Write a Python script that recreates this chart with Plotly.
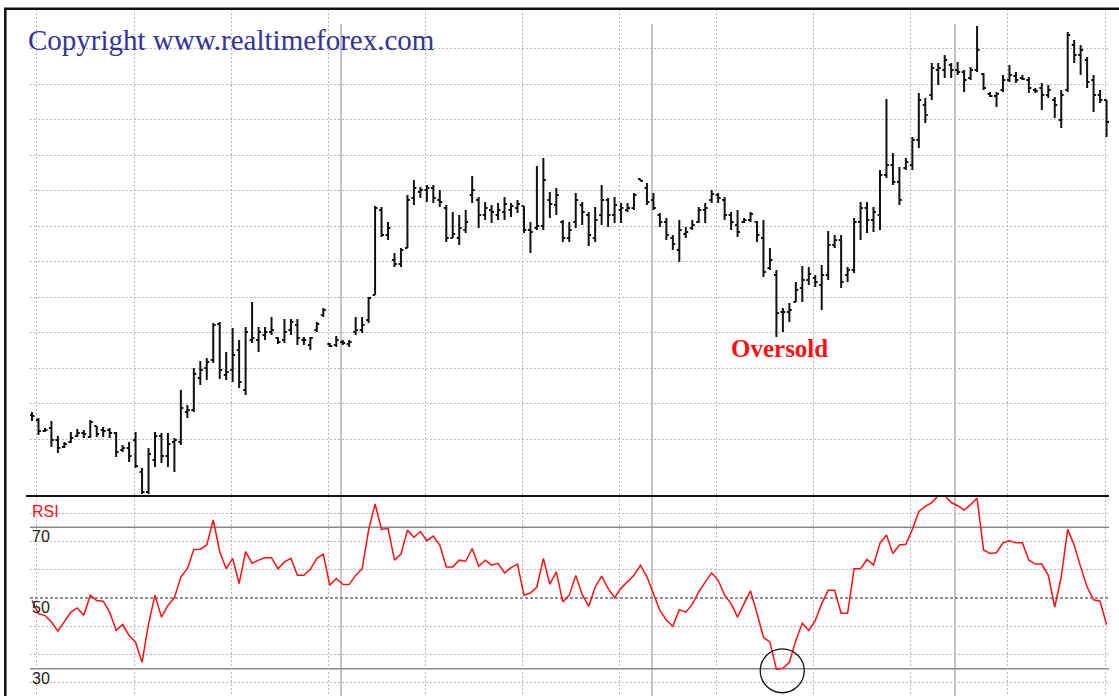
import plotly.graph_objects as go

W, H = 1119, 696

# ---------------- data (price in chart units, bar index on x) ----------------
bar_index = list(range(167))

high = [88, 82, 72, 79, 64, 58, 68, 71, 70, 80, 74, 73, 72, 68, 55, 58, 68, 32, 52, 68,
        67, 67, 62, 110, 95, 132, 139, 142, 177, 178, 148, 172, 160, 173, 198, 173, 173, 183, 163, 181,
        181, 181, 163, 163, 178, 192, 157, 164, 160, 160, 183, 183, 203, 294, 293, 278, 247, 252, 305, 320,
        313, 315, 315, 310, 295, 288, 285, 290, 324, 303, 298, 295, 297, 303, 297, 300, 294, 278, 334, 342,
        308, 312, 280, 278, 307, 298, 288, 293, 315, 302, 303, 297, 297, 307, 321, 317, 307, 287, 282, 265,
        280, 273, 280, 293, 297, 310, 307, 303, 288, 290, 282, 288, 279, 280, 252, 230, 192, 197, 218, 234,
        233, 225, 235, 269, 265, 265, 233, 282, 298, 298, 293, 330, 401, 347, 333, 342, 363, 407, 402, 437,
        437, 445, 437, 438, 430, 433, 474, 427, 408, 408, 425, 435, 428, 425, 423, 412, 417, 415, 403, 410,
        468, 460, 455, 443, 425, 410, 400]
low = [79, 65, 68, 53, 47, 52, 57, 63, 62, 62, 63, 63, 62, 43, 48, 38, 32, 6, 6, 33,
       37, 33, 28, 55, 82, 88, 115, 120, 137, 121, 120, 118, 112, 105, 157, 148, 160, 165, 156, 157,
       165, 155, 155, 150, 168, 183, 153, 153, 155, 153, 165, 167, 177, 205, 263, 260, 233, 233, 252, 295,
       302, 298, 297, 293, 258, 262, 255, 267, 297, 272, 280, 277, 280, 280, 283, 287, 267, 247, 270, 270,
       282, 285, 258, 258, 272, 275, 254, 258, 275, 273, 277, 277, 288, 290, 319, 295, 290, 273, 260, 250,
       238, 262, 270, 277, 277, 297, 297, 280, 270, 263, 277, 278, 258, 223, 230, 163, 168, 178, 198, 198,
       215, 213, 190, 220, 252, 212, 218, 227, 260, 267, 268, 270, 322, 315, 295, 330, 330, 352, 377, 400,
       415, 422, 422, 425, 408, 420, 428, 410, 403, 393, 408, 418, 417, 420, 407, 407, 390, 402, 382, 372,
       408, 437, 425, 412, 388, 397, 363]
open_ = [85, 80, 69, 72, 60, 53, 58, 64, 67, 63, 74, 70, 70, 67, 50, 52, 60, 28, 8, 40,
         64, 44, 58, 58, 88, 90, 122, 132, 140, 176, 125, 130, 150, 110, 160, 160, 165, 168, 162, 160,
         170, 175, 160, 155, 170, 185, 156, 155, 158, 156, 168, 170, 180, 205, 290, 265, 240, 236, 252, 302,
         308, 310, 312, 300, 292, 262, 262, 270, 305, 300, 285, 290, 285, 288, 290, 292, 294, 270, 272, 274,
         300, 295, 278, 262, 278, 295, 285, 262, 285, 300, 285, 290, 290, 292, 321, 312, 300, 285, 278, 262,
         250, 266, 272, 278, 290, 300, 305, 300, 285, 275, 278, 280, 278, 262, 232, 225, 188, 188, 198, 212,
         220, 222, 215, 225, 255, 260, 225, 230, 278, 292, 280, 285, 325, 335, 318, 332, 335, 360, 395, 405,
         430, 430, 435, 430, 428, 422, 430, 426, 406, 404, 410, 420, 424, 422, 420, 410, 412, 405, 400, 380,
         410, 455, 445, 440, 420, 405, 400]
close = [84, 69, 70, 60, 52, 56, 62, 67, 66, 78, 66, 69, 67, 48, 52, 44, 34, 8, 46, 64,
         44, 56, 60, 92, 90, 126, 130, 138, 175, 130, 128, 145, 118, 168, 162, 168, 168, 170, 158, 168,
         178, 162, 160, 162, 176, 190, 154, 160, 157, 158, 170, 175, 202, 292, 265, 272, 236, 250, 300, 312,
         310, 312, 302, 298, 262, 266, 272, 278, 310, 285, 292, 288, 290, 296, 294, 296, 270, 268, 274, 320,
         296, 305, 262, 270, 300, 288, 265, 280, 300, 285, 295, 292, 292, 305, 319, 298, 292, 278, 265, 256,
         270, 268, 275, 290, 292, 306, 302, 285, 278, 268, 280, 286, 265, 228, 240, 187, 188, 190, 210, 220,
         226, 218, 225, 255, 260, 218, 230, 278, 292, 280, 288, 325, 335, 318, 300, 338, 360, 400, 385, 432,
         432, 440, 430, 428, 420, 430, 450, 412, 404, 406, 420, 425, 420, 421, 412, 409, 405, 410, 395, 405,
         465, 445, 450, 418, 405, 400, 378]

rsi = [49.3, 45.5, 45.1, 43.2, 40.6, 43.2, 46.0, 47.2, 45.1, 50.8, 49.3, 49.1, 46.0, 40.8, 42.5, 39.4,
       37.5, 31.8, 42.7, 50.8, 44.6, 47.9, 50.1, 56.0, 58.3, 63.7, 63.8, 65.0, 72.1, 63.1, 58.3, 61.2,
       54.1, 63.1, 59.8, 60.7, 61.4, 61.4, 58.3, 60.2, 61.2, 56.4, 56.4, 58.1, 61.2, 62.4, 53.6, 55.5,
       53.9, 53.8, 56.4, 58.3, 69.2, 76.6, 69.4, 69.7, 60.7, 62.4, 69.2, 67.2, 68.8, 66.2, 67.5, 65.0,
       58.8, 58.8, 60.7, 60.4, 64.0, 59.0, 60.7, 59.3, 59.8, 57.1, 58.6, 59.6, 50.8, 51.4, 53.1, 61.2,
       53.9, 57.4, 48.9, 50.8, 56.4, 51.0, 47.6, 53.1, 56.2, 52.7, 50.1, 52.8, 54.5, 56.4, 59.3, 56.0,
       51.2, 46.5, 43.8, 42.0, 46.7, 46.0, 48.2, 51.7, 54.5, 57.1, 55.0, 50.8, 48.4, 44.6, 48.4, 52.0,
       45.7, 38.9, 37.5, 29.9, 30.1, 31.8, 38.0, 42.9, 40.8, 43.6, 48.4, 52.2, 52.2, 45.7, 45.7, 58.3,
       58.3, 60.9, 59.3, 65.5, 67.8, 62.6, 65.0, 65.2, 69.4, 74.5, 75.9, 77.0, 78.9, 78.9, 77.0, 76.1,
       74.9, 76.4, 78.2, 63.6, 62.6, 62.8, 65.6, 66.2, 65.6, 65.6, 60.7, 59.6, 59.6, 56.4, 47.4, 56.0,
       69.4, 65.0, 58.8, 53.1, 49.5, 49.1, 42.5]

# grid / reference levels
x_grid = [0.77 + 15 * k for k in range(12)]
price_grid = [61 + 35.5 * k for k in range(12)]
rsi_grid = [26, 34, 42, 58, 66, 74]
rsi_levels = [70, 50, 30]
period_lines = [47.74, 95.78, 142.59]

# ---------------- figure ----------------
fig = go.Figure()
fig.add_trace(go.Ohlc(
    x=bar_index, open=open_, high=high, low=low, close=close,
    increasing=dict(line=dict(color="#111111", width=2)),
    decreasing=dict(line=dict(color="#111111", width=2)),
    tickwidth=0.38, xaxis="x", yaxis="y", showlegend=False, hoverinfo="skip"))
fig.add_trace(go.Scatter(
    x=bar_index, y=rsi, mode="lines", line=dict(color="#ff1010", width=1.5),
    xaxis="x2", yaxis="y2", showlegend=False, hoverinfo="skip"))

def py(p):
    return 1 - p / H

xdom = [30 / W, 1109 / W]
xr = [-0.309, 166.38]
grid = dict(showgrid=True, gridcolor="#b8b8b8", gridwidth=1, griddash="2px,2px",
            zeroline=False, showline=False, showticklabels=False, ticks="")

fig.update_layout(
    width=W, height=H, margin=dict(l=0, r=0, t=0, b=0),
    paper_bgcolor="white", plot_bgcolor="white",
    xaxis=dict(domain=xdom, range=xr, tickvals=x_grid, anchor="y",
               rangeslider=dict(visible=False), **grid),
    xaxis2=dict(domain=xdom, range=xr, tickvals=x_grid, anchor="y2", matches="x", **grid),
    yaxis=dict(domain=[py(496), py(9)], range=[4, 491], tickvals=price_grid, anchor="x", **grid),
    yaxis2=dict(domain=[0, py(496)], range=[22.28, 78.85], tickvals=rsi_grid, anchor="x2", **grid),
)

shapes = []
for xv in period_lines:
    shapes.append(dict(type="line", xref="x", yref="paper", x0=xv, x1=xv, y0=0, y1=py(24),
                       line=dict(color="#b0b0b0", width=1.5), layer="below"))
for lv in rsi_levels:
    if lv == 50:
        ln = dict(color="#6e6e6e", width=1.3, dash="3px,2px")
    else:
        ln = dict(color="#8a8a8a", width=1.6)
    shapes.append(dict(type="line", xref="x2 domain", yref="y2", x0=0, x1=1, y0=lv, y1=lv,
                       line=ln, layer="below"))
# panel divider and frame
shapes.append(dict(type="line", xref="paper", yref="paper", x0=26 / W, x1=1109 / W,
                   y0=py(496), y1=py(496), line=dict(color="#111111", width=2)))
shapes.append(dict(type="line", xref="paper", yref="paper", x0=4 / W, x1=1,
                   y0=py(8.7), y1=py(8.7), line=dict(color="#111111", width=2.5)))
shapes.append(dict(type="line", xref="paper", yref="paper", x0=5.3 / W, x1=5.3 / W,
                   y0=0, y1=py(8), line=dict(color="#111111", width=2.5)))
# circle around the oversold RSI low
cx, cy = 115.9, 29.4
shapes.append(dict(type="circle", xref="x2", yref="y2", x0=cx - 3.4, x1=cx + 3.4,
                   y0=cy - 6.2, y1=cy + 6.2, line=dict(color="#111111", width=1.3)))
fig.update_layout(shapes=shapes)

ann = []
ann.append(dict(text="Copyright www.realtimeforex.com", xref="paper", yref="paper",
                x=26 / W, y=py(22), xanchor="left", yanchor="top", showarrow=False,
                font=dict(family="Liberation Serif", size=29, color="#32349a")))
ann.append(dict(text="<b>Oversold</b>", xref="x", yref="y", x=115.4, y=163,
                xanchor="center", yanchor="top", showarrow=False, yshift=4,
                font=dict(family="Liberation Serif", size=25, color="#ff1010")))
ann.append(dict(text="RSI", xref="paper", yref="y2", x=30 / W, y=78.85, xanchor="left",
                yanchor="top", showarrow=False, yshift=-5,
                font=dict(family="Liberation Sans", size=16, color="#ff1010")))
for lv in rsi_levels:
    ann.append(dict(text=str(lv), xref="paper", yref="y2", x=30 / W, y=lv, xanchor="left",
                    yanchor="top", showarrow=False, yshift=1,
                    font=dict(family="Liberation Sans", size=16, color="#222222")))
fig.update_layout(annotations=ann)

fig.write_html("out.html", config={"displayModeBar": False},
               post_script="document.body.style.margin='0px';")
